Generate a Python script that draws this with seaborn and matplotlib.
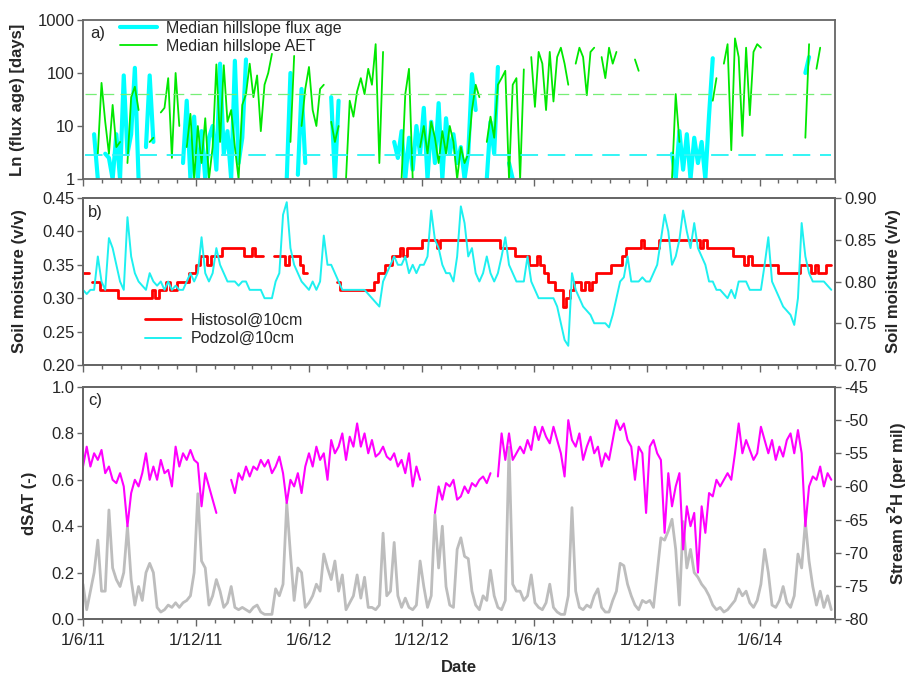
import numpy as np
import pandas as pd
import matplotlib
matplotlib.use("Agg")
import matplotlib.pyplot as plt
import matplotlib.dates as mdates
from matplotlib.ticker import NullLocator
import seaborn as sns

nan = np.nan

# ---------------- data (6-day sampling from 1 June 2011) ----------------
start_date = "2011-06-01"
step_days = 6

flux_age = [
    nan, nan, nan, 7, 1, nan, 3, 2.5, 1, 7,
    1, 90, 3, 7, 125, 1, nan, 4, 90, 5,
    nan, nan, nan, nan, nan, nan, nan, 2, 30, 1,
    15, 1, 8, 1, 6, 10, 1.5, 150, 3, 8,
    1, 170, 2, 6, 180, nan, nan, nan, nan, nan,
    nan, nan, nan, nan, nan, 1, 100, nan, 1.2, 50,
    2, nan, nan, nan, nan, nan, nan, 35, 1, 30,
    nan, nan, nan, nan, nan, nan, nan, nan, nan, nan,
    nan, nan, nan, nan, 5, 2.5, 8, 1, 6, 1.5,
    10, 3, 22, 1, 12, 2, 27, 1, 14, 3,
    7, 2, 4, 1, 3, 95, 20, nan, nan, 1,
    12, 3, 130, nan, nan, 2, 1, nan, nan, nan,
    nan, nan, nan, nan, nan, nan, nan, nan, nan, nan,
    nan, nan, nan, nan, nan, nan, nan, nan, nan, nan,
    nan, nan, nan, nan, nan, nan, nan, nan, nan, nan,
    nan, nan, nan, nan, nan, nan, nan, nan, nan, 3,
    1, 8, 1.5, 7, 1, 6, 2, 5, 1, 16,
    190, nan, nan, nan, nan, nan, nan, nan, nan, nan,
    nan, nan, nan, nan, nan, nan, nan, nan, nan, nan,
    nan, nan, nan, nan, nan, 100, 200, nan, nan, nan,
    nan, nan, nan,
]

aet = [
    nan, nan, nan, nan, 3, 65, 12, 3, 25, 4,
    5, nan, 2, 35, 55, 20, nan, nan, 5, 6,
    nan, 18, 22, 80, 2.5, 100, 10, nan, 4, 17,
    1, 10, 2, 14, 1, 4, 145, 5, 140, 12,
    20, 4, 1, 25, 40, 150, 35, 90, 8, 60,
    100, 230, nan, nan, nan, nan, 5, 210, nan, 10,
    50, 130, 20, 10, 50, 60, nan, 12, 5, 10,
    nan, 1, 30, 15, 45, 80, 40, 120, 60, 350,
    2, 250, nan, nan, nan, nan, 1, 40, 120, 1,
    nan, 4, 10, 3, 12, 6, 2, 8, 3, 10,
    5, 1, 4, 2, 3, 20, 60, 35, nan, 5,
    15, 6, 60, 80, 110, 1, 60, 80, 1, 117,
    nan, 200, 23, 250, 150, 20, 250, 29, 200, 300,
    150, 60, nan, 150, 300, 200, 38, 250, 300, nan,
    200, 80, 300, 150, 250, nan, nan, nan, nan, 180,
    110, nan, nan, 350, nan, 380, nan, nan, nan, 1,
    40, 5, nan, nan, nan, nan, nan, nan, nan, nan,
    30, 80, nan, 150, 350, 3.5, 450, 200, 6.5, 300,
    16, 250, 350, 300, nan, nan, nan, nan, nan, nan,
    nan, nan, nan, nan, nan, 6, 350, nan, 120, 300,
    nan, nan, nan,
]

histosol = [
    0.3375, 0.3375, nan, 0.325, 0.325, 0.3125, 0.3125, 0.3125, 0.3125, 0.3125,
    0.30, 0.30, 0.30, 0.30, 0.30, 0.30, 0.30, 0.30, 0.30, 0.3125,
    0.30, 0.3125, 0.3125, 0.325, 0.3125, 0.3125, 0.325, 0.325, 0.325, 0.3375,
    0.3375, 0.35, 0.3625, 0.3625, 0.35, 0.3625, 0.3625, 0.3625, 0.375, 0.375,
    0.375, 0.375, 0.375, 0.375, 0.3625, 0.3625, 0.375, 0.3625, 0.3625, nan,
    nan, nan, 0.3625, 0.3625, 0.3625, 0.35, 0.3625, 0.3625, 0.3625, 0.35,
    0.3375, nan, nan, nan, nan, nan, nan, nan, nan, 0.325,
    0.3125, 0.3125, 0.3125, 0.3125, 0.3125, 0.3125, 0.3125, 0.3125, 0.3125, 0.325,
    0.3375, 0.3375, 0.35, 0.35, 0.3625, 0.3625, 0.375, 0.3625, 0.375, 0.375,
    0.375, 0.375, 0.3875, 0.3875, 0.3875, 0.3875, 0.375, 0.3875, 0.3875, 0.3875,
    0.3875, 0.3875, 0.3875, 0.3875, 0.3875, 0.3875, 0.3875, 0.3875, 0.3875, 0.3875,
    0.3875, 0.3875, 0.3875, 0.375, 0.375, 0.375, 0.375, 0.3625, 0.3625, 0.3625,
    0.3625, 0.35, 0.35, 0.3625, 0.35, 0.3375, 0.325, 0.325, 0.3125, 0.3125,
    0.2875, 0.30, 0.3125, 0.325, 0.325, 0.3125, 0.325, 0.3125, 0.325, 0.3375,
    0.3375, 0.3375, 0.3375, 0.35, 0.35, 0.35, 0.3625, 0.375, 0.375, 0.375,
    0.375, 0.3875, 0.375, 0.375, 0.375, 0.375, 0.3875, 0.3875, 0.3875, 0.3875,
    0.3875, 0.3875, 0.3875, 0.3875, 0.3875, 0.3875, 0.3875, 0.375, 0.3875, 0.375,
    0.375, 0.375, 0.375, 0.375, 0.375, 0.375, 0.3625, 0.3625, 0.3625, 0.35,
    0.3625, 0.35, 0.35, 0.35, 0.35, 0.35, 0.35, 0.35, 0.3375, 0.3375,
    0.3375, 0.3375, 0.3375, 0.3375, 0.35, 0.35, 0.35, 0.3375, 0.35, 0.3375,
    0.3375, 0.35, 0.35,
]

podzol = [
    0.79, 0.785, 0.79, 0.79, 0.83, 0.80, 0.79, 0.852, 0.84, 0.82,
    0.80, 0.79, 0.877, 0.83, 0.81, 0.80, 0.795, 0.79, 0.81, 0.80,
    0.795, 0.80, 0.79, 0.80, 0.79, 0.795, 0.79, 0.79, 0.80, 0.81,
    0.80, 0.81, 0.853, 0.81, 0.80, 0.81, 0.84, 0.82, 0.81, 0.80,
    0.80, 0.80, 0.795, 0.80, 0.80, 0.79, 0.79, 0.79, 0.79, 0.78,
    0.78, 0.78, 0.80, 0.81, 0.88, 0.895, 0.84, 0.82, 0.81, 0.80,
    0.795, 0.79, 0.80, 0.79, 0.80, 0.855, 0.82, 0.82, 0.81, 0.80,
    0.79, 0.79, 0.79, 0.79, 0.79, 0.79, 0.79, 0.785, 0.78, 0.775,
    0.77, 0.80, 0.81, 0.82, 0.83, 0.82, 0.82, 0.83, 0.81, 0.82,
    0.81, 0.82, 0.82, 0.83, 0.885, 0.85, 0.84, 0.82, 0.81, 0.81,
    0.80, 0.83, 0.89, 0.87, 0.83, 0.84, 0.81, 0.80, 0.81, 0.83,
    0.81, 0.80, 0.81, 0.83, 0.853, 0.82, 0.81, 0.80, 0.80, 0.80,
    0.83, 0.80, 0.79, 0.78, 0.78, 0.78, 0.78, 0.78, 0.77, 0.75,
    0.73, 0.723, 0.81, 0.79, 0.78, 0.77, 0.765, 0.76, 0.75, 0.75,
    0.75, 0.75, 0.745, 0.76, 0.78, 0.80, 0.805, 0.83, 0.80, 0.80,
    0.80, 0.805, 0.80, 0.80, 0.81, 0.82, 0.85, 0.88, 0.86, 0.82,
    0.83, 0.85, 0.885, 0.86, 0.84, 0.87, 0.84, 0.83, 0.82, 0.80,
    0.80, 0.79, 0.79, 0.785, 0.78, 0.79, 0.78, 0.80, 0.80, 0.80,
    0.79, 0.79, 0.79, 0.79, 0.82, 0.853, 0.80, 0.79, 0.78, 0.77,
    0.765, 0.76, 0.748, 0.78, 0.87, 0.83, 0.81, 0.80, 0.80, 0.80,
    0.80, 0.795, 0.79,
]

dsat = [
    0.15, 0.04, 0.12, 0.20, 0.34, 0.12, 0.12, 0.47, 0.22, 0.17,
    0.14, 0.20, 0.40, 0.17, 0.06, 0.14, 0.08, 0.20, 0.24, 0.20,
    0.05, 0.03, 0.04, 0.06, 0.05, 0.07, 0.05, 0.07, 0.08, 0.10,
    0.20, 0.54, 0.25, 0.22, 0.06, 0.10, 0.17, 0.12, 0.05, 0.07,
    0.14, 0.05, 0.04, 0.05, 0.04, 0.03, 0.05, 0.06, 0.03, 0.02,
    0.02, 0.02, 0.13, 0.10, 0.15, 0.50, 0.28, 0.08, 0.22, 0.20,
    0.05, 0.07, 0.10, 0.15, 0.12, 0.28, 0.22, 0.17, 0.25, 0.12,
    0.19, 0.04, 0.07, 0.10, 0.19, 0.09, 0.18, 0.05, 0.05, 0.04,
    0.06, 0.37, 0.10, 0.12, 0.33, 0.10, 0.05, 0.09, 0.05, 0.04,
    0.06, 0.25, 0.14, 0.05, 0.10, 0.45, 0.22, 0.40, 0.14, 0.06,
    0.05, 0.30, 0.35, 0.27, 0.26, 0.12, 0.06, 0.04, 0.10, 0.08,
    0.21, 0.10, 0.05, 0.04, 0.08, 0.74, 0.15, 0.12, 0.12, 0.08,
    0.10, 0.19, 0.07, 0.05, 0.04, 0.07, 0.15, 0.05, 0.03, 0.02,
    0.02, 0.10, 0.48, 0.12, 0.05, 0.04, 0.06, 0.05, 0.10, 0.13,
    0.05, 0.03, 0.03, 0.08, 0.12, 0.24, 0.23, 0.15, 0.10, 0.06,
    0.04, 0.08, 0.07, 0.08, 0.05, 0.20, 0.35, 0.34, 0.38, 0.43,
    0.30, 0.06, 0.42, 0.22, 0.30, 0.20, 0.18, 0.15, 0.13, 0.10,
    0.06, 0.04, 0.05, 0.03, 0.04, 0.06, 0.08, 0.13, 0.10, 0.12,
    0.07, 0.05, 0.08, 0.15, 0.30, 0.20, 0.06, 0.05, 0.08, 0.14,
    0.07, 0.05, 0.10, 0.28, 0.22, 0.42, 0.25, 0.14, 0.06, 0.12,
    0.05, 0.10, 0.04,
]

stream_d2h = [
    -57, -54, -57, -55, -56, -54.5, -58, -57, -59, -59.5,
    -58, -60, -66, -61, -59, -60, -58, -55, -59, -57,
    -59, -56, -58, -57.5, -60, -54, -57, -55, -56, -54.5,
    -56, -56.5, -63, -58, -60, -62, -64, nan, -63, nan,
    -59, -61, -58, -59, -57, -58.5, -57, -57.5, -56, -57,
    -56, -58, -57, -55.5, -58, -62.5, -59, -60, -58, -61,
    -57, -55, -57, -54, -56, -55, -59, -53, -55, -54,
    -52, -56, -52.5, -54, -50.5, -54, -52, -55, -53, -55.5,
    -55, -54, -55.5, -56, -55, -57, -56, -58, -55, -60,
    -57, -59, nan, -58, nan, -64, -60, -62, -59.5, -60,
    -59, -62, -61.5, -60, -61, -59.5, -60, -59, -58.5, -59.5,
    -58, nan, -58.5, -52, -56, -52, -56, -55, -54, -55,
    -53, -54.5, -51, -53, -51, -52.5, -53.5, -51, -53, -55,
    -58.5, -50, -53, -54, -52, -56, -54, -52.5, -55, -54,
    -57, -55, -56, -53, -50, -51.5, -50.5, -53, -54, -59,
    -54, -55, -64, -54, -53, -55, -56, -67, -58, -63,
    -60, -58, -69.5, -63, -66, -64, -73, -63, -67, -61,
    -61.5, -59, -60, -59, -58, -59, -55, -50.5, -55, -53,
    -54.5, -56, -55, -51, -53, -55, -53, -56, -54, -55.5,
    -53, -52, -55, -51.5, -55, -66, -60, -58.5, -59, -57,
    -60, -58, -59,
]

flux_age_median = 2.84
aet_median = 40.7

date_ticks = ["2011-06-01", "2011-12-01", "2012-06-01", "2012-12-01",
              "2013-06-01", "2013-12-01", "2014-06-01"]
date_labels = ["1/6/11", "1/12/11", "1/6/12", "1/12/12", "1/6/13", "1/12/13", "1/6/14"]
x_limits = ["2011-06-01", "2014-10-01"]

a_ticks = [1, 10, 100, 1000]
a_labels = ["1", "10", "100", "1000"]
b_left_ticks = [0.20, 0.25, 0.30, 0.35, 0.40, 0.45]
b_right_ticks = [0.70, 0.75, 0.80, 0.85, 0.90]
c_left_ticks = [0.0, 0.2, 0.4, 0.6, 0.8, 1.0]
c_right_ticks = [-80, -75, -70, -65, -60, -55, -50, -45]

# ---------------- figure ----------------
n = len(dsat)
for arr in (flux_age, aet, histosol, podzol, stream_d2h):
    assert len(arr) == n, len(arr)
dates = pd.date_range(start_date, periods=n, freq=f"{step_days}D")

sns.set_style("ticks")
plt.rcParams["font.family"] = ["Liberation Sans", "DejaVu Sans"]

FW, FH = 908, 677
fig = plt.figure(figsize=(FW / 100, FH / 100), dpi=100)
L, W = 83 / FW, 752 / FW


def rect(top, bottom):
    return [L, 1 - bottom / FH, W, (bottom - top) / FH]


axa = fig.add_axes(rect(20, 179))
axb = fig.add_axes(rect(198, 365))
axc = fig.add_axes(rect(387, 619))
axb2 = axb.twinx()
axc2 = axc.twinx()

CYAN = "#00FFFF"
GREEN = "#00E800"
SPINE = "#666666"
TICK_FS = 12

# panel a
fa = np.array(flux_age, dtype=float)
ae = np.array(aet, dtype=float)
axa.plot(dates, fa, color=CYAN, lw=3.0, label="Median hillslope flux age")
axa.plot(dates, ae, color=GREEN, lw=1.3, label="Median hillslope AET")
axa.axhline(flux_age_median, xmin=0.003, xmax=0.995, color="#33F5F5", lw=1.4, dashes=(9, 5))
axa.axhline(aet_median, xmin=0.003, xmax=0.995, color="#77EE77", lw=0.9, dashes=(9, 5))
axa.set_yscale("log")
axa.set_ylim(1, 1000)
axa.set_yticks(a_ticks, labels=a_labels)
axa.yaxis.set_minor_locator(NullLocator())
axa.set_ylabel("Ln (flux age) [days]", fontsize=12, fontweight="bold")
axa.yaxis.set_label_coords(-0.077, 0.5)
axa.legend(loc="upper left", bbox_to_anchor=(0.049, 0.995), frameon=False,
           fontsize=11.5, handlelength=2.3, handletextpad=0.6,
           labelspacing=0.2, borderpad=0, borderaxespad=0)
axa.text(0.009, 0.918, "a)", transform=axa.transAxes, fontsize=12, va="center")

# panel b
axb.plot(dates, histosol, color="#FF0000", lw=2.0, drawstyle="steps-mid", label="Histosol@10cm")
sns.lineplot(x=dates, y=podzol, ax=axb2, color="#1EF0F0", lw=1.4, legend=False)
axb.set_ylim(0.20, 0.45)
axb.set_yticks(b_left_ticks, labels=[f"{v:.2f}" for v in b_left_ticks])
axb2.set_ylim(0.70, 0.90)
axb2.set_yticks(b_right_ticks, labels=[f"{v:.2f}" for v in b_right_ticks])
axb.set_ylabel("Soil moisture (v/v)", fontsize=12, fontweight="bold")
axb.yaxis.set_label_coords(-0.074, 0.5)
axb2.set_ylabel("Soil moisture (v/v)", fontsize=12, fontweight="bold")
axb2.yaxis.set_label_coords(1.068, 0.5)
h1 = axb.get_lines()[0]
h2 = plt.Line2D([], [], color="#1EF0F0", lw=1.4)
axb.legend([h1, h2], ["Histosol@10cm", "Podzol@10cm"], loc="upper left",
           bbox_to_anchor=(0.082, 0.311), frameon=False, fontsize=11.5,
           handlelength=2.3, handletextpad=0.6, labelspacing=0.2,
           borderpad=0, borderaxespad=0)
axb.text(0.007, 0.916, "b)", transform=axb.transAxes, fontsize=12, va="center")

# panel c
sns.lineplot(x=dates, y=dsat, ax=axc, color="#BDBDBD", lw=2.0, legend=False)
axc2.plot(dates, stream_d2h, color="#FF00FF", lw=1.5)
axc.set_ylim(0, 1)
axc.set_yticks(c_left_ticks, labels=[f"{v:.1f}" for v in c_left_ticks])
axc2.set_ylim(-80, -45)
axc2.set_yticks(c_right_ticks, labels=[str(v) for v in c_right_ticks])
axc.set_ylabel("dSAT (-)", fontsize=12, fontweight="bold")
axc.yaxis.set_label_coords(-0.061, 0.5)
axc2.set_ylabel("Stream δ$^\\mathbf{2}$H (per mil)", fontsize=12, fontweight="bold")
axc2.yaxis.set_label_coords(1.068, 0.5)
axc.text(0.007, 0.94, "c)", transform=axc.transAxes, fontsize=12, va="center")

# shared x formatting
xt = mdates.date2num(pd.to_datetime(date_ticks))
xl = mdates.date2num(pd.to_datetime(x_limits))
for ax in (axa, axb, axc):
    ax.set_xlim(xl)
    ax.set_xticks(xt, labels=date_labels)
    ax.xaxis.set_minor_locator(mdates.MonthLocator())
    ax.tick_params(axis="x", which="major", direction="out", length=5, width=1,
                   color=SPINE, labelsize=TICK_FS, pad=5)
    ax.tick_params(axis="x", which="minor", direction="out", length=3, width=1, color=SPINE)
    ax.tick_params(axis="y", which="major", direction="out", length=4, width=1,
                   color=SPINE, labelsize=TICK_FS, pad=2)
axa.tick_params(axis="x", labelbottom=False)
axb.tick_params(axis="x", labelbottom=False)
for ax in (axb2, axc2):
    ax.set_xlim(xl)
    ax.tick_params(axis="y", which="major", direction="out", length=4, width=1,
                   color=SPINE, labelsize=TICK_FS, pad=3)

for ax in (axa, axb, axc, axb2, axc2):
    for s in ax.spines.values():
        s.set_visible(True)
        s.set_color(SPINE)
        s.set_linewidth(1.3)
axa.set_xlabel("")
axb.set_xlabel("")
axc.set_xlabel("Date", fontsize=12, fontweight="bold", labelpad=9)

fig.savefig("out.png", dpi=100, facecolor="white")
